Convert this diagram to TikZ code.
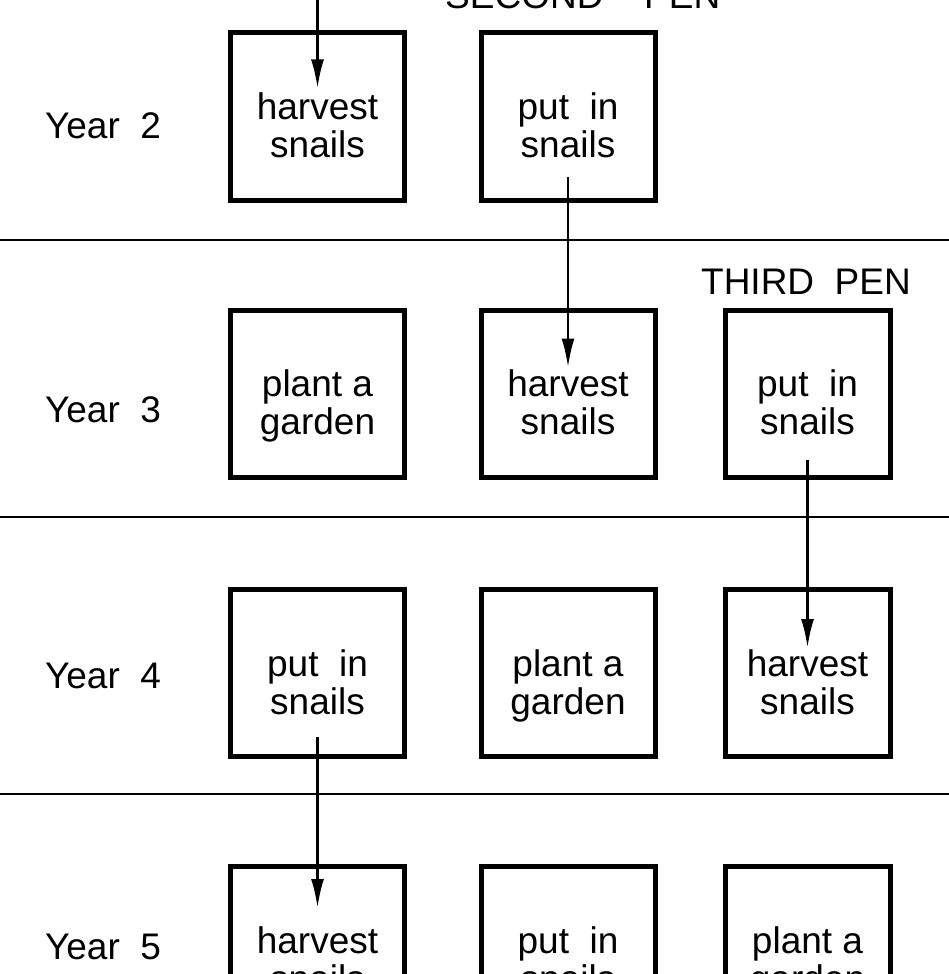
\documentclass[tikz,border=0pt]{standalone}
\usepackage{fontspec}
\setmainfont{Liberation Sans}
\usetikzlibrary{arrows.meta}
\begin{document}
\begin{tikzpicture}[x=1pt,y=-1pt,
  pen/.style={draw, line width=5pt, minimum width=174pt, minimum height=167pt, inner sep=0pt},
  narrowpen/.style={pen, minimum width=165pt},
  lbl/.style={font=\fontsize{37}{35}\selectfont, align=center, inner sep=0pt},
  yearlbl/.style={font=\fontsize{37}{37}\selectfont, inner sep=0pt},
  divider/.style={line width=1.8pt},
  arr/.style={line width=2.8pt, -{Latex[length=29pt,width=13pt]}}]
\useasboundingbox (0,0) rectangle (949,974);

% pen header texts
\node[yearlbl, anchor=base west] (second) at (445,9) {SECOND\hspace{1.1em}PEN};
\node[yearlbl] (third) at (806,281.5) {THIRD\ \ PEN};

% year labels
\node[yearlbl] (y2) at (103,126) {Year\ \ 2};
\node[yearlbl] (y3) at (103,410) {Year\ \ 3};
\node[yearlbl] (y4) at (103,676) {Year\ \ 4};
\node[yearlbl] (y5) at (103,947) {Year\ \ 5};

% dividers
\draw[divider] (0,240) -- (949,240);
\draw[divider] (0,517) -- (949,517);
\draw[divider] (0,794) -- (949,794);

% boxes
\node[pen] (b21) at (317.5,116.5) {};
\node[pen] (b22) at (568,116.5) {};
\node[pen] (b31) at (317.5,393.5) {};
\node[pen] (b32) at (568,393.5) {};
\node[narrowpen] (b33) at (807.5,393.5) {};
\node[pen] (b41) at (317.5,673) {};
\node[pen] (b42) at (568,673) {};
\node[narrowpen] (b43) at (807.5,673) {};
\node[pen] (b51) at (317.5,950) {};
\node[pen] (b52) at (568,950) {};
\node[narrowpen] (b53) at (807.5,950) {};

% box texts
\node[lbl] (t21) at ([yshift=-14pt]b21.center) {harvest\strut\\snails\strut};
\node[lbl] (t22) at ([yshift=-14pt]b22.center) {put\ \ in\strut\\snails\strut};
\node[lbl] (t31) at ([yshift=-14pt]b31.center) {plant a\strut\\garden\strut};
\node[lbl] (t32) at ([yshift=-14pt]b32.center) {harvest\strut\\snails\strut};
\node[lbl] (t33) at ([yshift=-14pt]b33.center) {put\ \ in\strut\\snails\strut};
\node[lbl] (t41) at ([yshift=-14pt]b41.center) {put\ \ in\strut\\snails\strut};
\node[lbl] (t42) at ([yshift=-14pt]b42.center) {plant a\strut\\garden\strut};
\node[lbl] (t43) at ([yshift=-14pt]b43.center) {harvest\strut\\snails\strut};
\node[lbl] (t51) at ([yshift=-14pt]b51.center) {harvest\strut\\snails\strut};
\node[lbl] (t52) at ([yshift=-14pt]b52.center) {put\ \ in\strut\\snails\strut};
\node[lbl] (t53) at ([yshift=-14pt]b53.center) {plant a\strut\\garden\strut};

% connectors
\coordinate (topin) at (317.5,-30);
\draw[arr] (topin) -- ([yshift=-58pt]b21.north);
\draw[arr] ([yshift=26pt]b22.south) -- ([yshift=-60pt]b32.north);
\draw[arr] ([yshift=20pt]b33.south) -- ([yshift=-61pt]b43.north);
\draw[arr] ([yshift=22pt]b41.south) -- ([yshift=-44pt]b51.north);
\end{tikzpicture}
\end{document}
